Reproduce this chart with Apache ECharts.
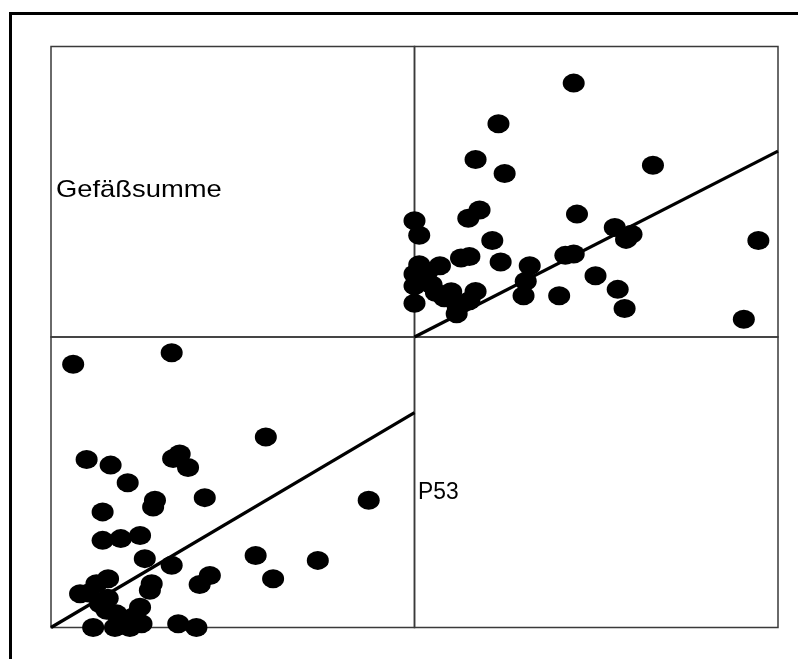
<!DOCTYPE html>
<html>
<head>
<meta charset="utf-8">
<script src="https://cdn.jsdelivr.net/npm/echarts@6/dist/echarts.min.js"></script>
<style>
html,body{margin:0;padding:0;background:#fff;}
#chart{width:798px;height:659px;}
</style>
</head>
<body>
<div id="chart"></div>
<script>
// Variable names (diagonal labels)
const varNames = ['Gefäßsumme', 'P53'];

// Observations (same cases in both panels), scaled 0-100
const gefaess = [6.1, 33.2, 59.1, 9.8, 16.4, 33.6, 35.4, 37.7, 21.1, 28.6, 28.1, 42.3, 87.4, 14.2,
  14.2, 19.2, 24.5, 25.8, 56.3, 73.4, 33.2, 61.1, 43.7, 40.9, 27.7, 27.2, 12.5, 15.7, 8.0, 10.4,
  13.5, 15.3, 18.0, 24.5, 22.6, 15.6, 11.6, 17.6, 21.7, 24.9, 35.0, 40.0];
const p53 = [90.6, 94.6, 65.6, 57.8, 55.9, 58.2, 59.7, 55.1, 49.8, 43.8, 41.5, 44.7, 43.8, 39.8,
  30.0, 30.6, 31.7, 23.7, 24.8, 23.1, 21.4, 16.8, 17.9, 14.8, 15.1, 12.8, 15.1, 16.8, 11.6, 11.9,
  8.2, 5.9, 4.7, 7.0, 3.6, 10.1, 0, 0, 0, 1.3, 1.3, 0];

// Fit lines: [x start, x end] and [y start, y end]
const fitGefOnP53 = { x: [0, 100], y: [0, 64] };   // top-right panel
const fitP53OnGef = { x: [0, 100], y: [0, 74] };   // bottom-left panel

const axisRange = { min: 0, max: 100 };

const ptsTR = p53.map((p, i) => [p, gefaess[i]]);
const ptsBL = gefaess.map((g, i) => [g, p53[i]]);

const chart = echarts.init(document.getElementById('chart'), null, {renderer: 'canvas'});

const cellW = 363.5, cellH = 290.5, L = 51, T = 46.5;
const grids = [
  {left: L, top: T, width: cellW, height: cellH},
  {left: L + cellW, top: T, width: cellW, height: cellH},
  {left: L, top: T + cellH, width: cellW, height: cellH},
  {left: L + cellW, top: T + cellH, width: cellW, height: cellH}
].map(g => Object.assign(g, {show: true, borderColor: '#3a3a3a', borderWidth: 1.5, backgroundColor: 'transparent', containLabel: false}));

const ax = i => ({gridIndex: i, type: 'value', min: axisRange.min, max: axisRange.max, show: false});

const dotStyle = {color: '#000', opacity: 1};

const option = {
  animation: false,
  backgroundColor: '#fff',
  grid: grids,
  xAxis: [ax(0), ax(1), ax(2), ax(3)],
  yAxis: [ax(0), ax(1), ax(2), ax(3)],
  series: [
    {type: 'scatter', xAxisIndex: 1, yAxisIndex: 1, data: ptsTR, symbol: 'circle', symbolSize: [22, 19], clip: false,
     itemStyle: dotStyle},
    {type: 'scatter', xAxisIndex: 2, yAxisIndex: 2, data: ptsBL, symbol: 'circle', symbolSize: [22, 19], clip: false,
     itemStyle: dotStyle},
    {type: 'line', xAxisIndex: 1, yAxisIndex: 1, data: fitGefOnP53.x.map((x, i) => [x, fitGefOnP53.y[i]]),
     symbol: 'none', lineStyle: {color: '#000', width: 3.2, opacity: 1}, z: 3},
    {type: 'line', xAxisIndex: 2, yAxisIndex: 2, data: fitP53OnGef.x.map((x, i) => [x, fitP53OnGef.y[i]]),
     symbol: 'none', lineStyle: {color: '#000', width: 3.2, opacity: 1}, z: 3}
  ],
  graphic: [
    {type: 'line', shape: {x1: 10.5, y1: 12, x2: 10.5, y2: 659}, style: {stroke: '#000', lineWidth: 3}},
    {type: 'line', shape: {x1: 9, y1: 13.5, x2: 798, y2: 13.5}, style: {stroke: '#000', lineWidth: 3}},
    {type: 'text', x: 56, y: 178, scaleX: 1.14,
     style: {text: varNames[0], fontSize: 24, fontFamily: '"Liberation Sans", Arial, sans-serif', fill: '#000'}},
    {type: 'text', x: 418, y: 480, scaleX: 0.95,
     style: {text: varNames[1], fontSize: 24, fontFamily: '"Liberation Sans", Arial, sans-serif', fill: '#000'}}
  ]
};
chart.setOption(option);
</script>
</body>
</html>
